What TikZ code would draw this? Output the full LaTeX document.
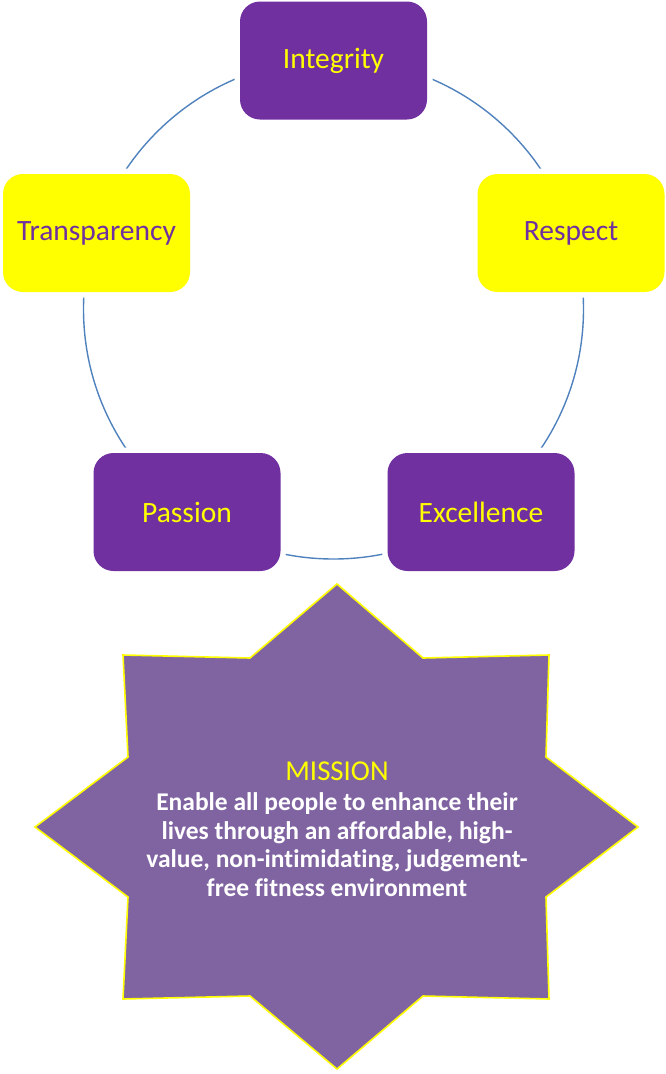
\documentclass[tikz,border=0pt]{standalone}
\usepackage{fontspec}
\setmainfont[Ligatures=NoCommon]{Carlito}
\definecolor{vpurple}{HTML}{7030A0}
\definecolor{vyellow}{HTML}{FFFF00}
\definecolor{starfill}{HTML}{8064A2}
\definecolor{ringblue}{HTML}{4F81BD}
\begin{document}
\begin{tikzpicture}[x=1pt,y=-1pt,
  valbox/.style={rounded corners=20pt, minimum width=187pt, minimum height=118pt,
    inner sep=0pt, font=\fontsize{29.5}{34}\selectfont,
    preaction={draw=white,line width=11pt}},
  purplebox/.style={valbox, fill=vpurple, text=vyellow},
  yellowbox/.style={valbox, fill=vyellow, text=vpurple},
  ring/.style={draw=ringblue, line width=1.4pt},
  starshape/.style={fill=starfill, draw=vyellow, line width=1.6pt, line join=miter}]
\useasboundingbox (0,0) rectangle (665,1074);
\coordinate (ctr) at (333.5,309);
\draw[ring] (ctr) circle[radius=250pt];
\node[purplebox] (integrity) at (333.5,60.5) {Integrity};
\node[yellowbox] (respect) at (571,233) {Respect};
\node[yellowbox] (transparency) at (96.5,233) {Transparency};
\node[purplebox] (passion) at (187,512) {Passion};
\node[purplebox] (excellence) at (481,512) {Excellence};
\draw[starshape] (337,584) -- (423,658) -- (549,655) -- (546,757) -- (638,827)
  -- (546,897) -- (549,999) -- (423,996) -- (337,1069) -- (250,996)
  -- (123,999) -- (128,897) -- (35,827) -- (128,757) -- (123,655)
  -- (250,658) -- cycle;
\node[text=white, align=center, inner sep=0pt,
  font=\bfseries\fontsize{25.5}{28.5}\selectfont] (mission) at (337,829)
  {{\mdseries\color{vyellow}\fontsize{28.8}{30}\selectfont MISSION}\\[2pt]
   Enable all people to enhance their\\
   lives through an affordable, high-\\
   value, non-intimidating, judgement-\\
   free fitness environment};
\end{tikzpicture}
\end{document}
